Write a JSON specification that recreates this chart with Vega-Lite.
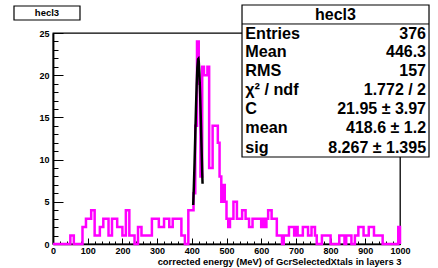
{
  "$schema": "https://vega.github.io/schema/vega-lite/v6.json",
  "width": 347,
  "height": 211,
  "autosize": {"type": "none"},
  "padding": {"left": 53, "top": 33, "right": 38, "bottom": 24},
  "background": "white",
  "config": {
    "view": {"stroke": "black", "strokeWidth": 1.3},
    "font": "Liberation Sans",
    "axis": {"labelOverlap": false, "labelFlush": false, "grid": false, "ticks": true},
    "text": {"font": "Liberation Sans", "fontWeight": "bold", "color": "black"}
  },
  "datasets": {
    "hist": [
      {"lo":0,"n":0},{"lo":5,"n":0},{"lo":10,"n":0},{"lo":15,"n":0},{"lo":20,"n":0},{"lo":25,"n":0},{"lo":30,"n":0},{"lo":35,"n":0},{"lo":40,"n":0},{"lo":45,"n":0},
      {"lo":50,"n":1},{"lo":55,"n":1},{"lo":60,"n":0},{"lo":65,"n":0},{"lo":70,"n":0},{"lo":75,"n":0},{"lo":80,"n":0},{"lo":85,"n":2},{"lo":90,"n":2},{"lo":95,"n":3},
      {"lo":100,"n":3},{"lo":105,"n":3},{"lo":110,"n":4},{"lo":115,"n":4},{"lo":120,"n":1},{"lo":125,"n":1},{"lo":130,"n":1},{"lo":135,"n":2},{"lo":140,"n":2},{"lo":145,"n":3},
      {"lo":150,"n":3},{"lo":155,"n":3},{"lo":160,"n":1},{"lo":165,"n":1},{"lo":170,"n":3},{"lo":175,"n":3},{"lo":180,"n":3},{"lo":185,"n":2},{"lo":190,"n":2},{"lo":195,"n":2},
      {"lo":200,"n":1},{"lo":205,"n":1},{"lo":210,"n":4},{"lo":215,"n":4},{"lo":220,"n":1},{"lo":225,"n":1},{"lo":230,"n":1},{"lo":235,"n":0},{"lo":240,"n":0},{"lo":245,"n":2},
      {"lo":250,"n":2},{"lo":255,"n":1},{"lo":260,"n":1},{"lo":265,"n":1},{"lo":270,"n":1},{"lo":275,"n":1},{"lo":280,"n":1},{"lo":285,"n":3},{"lo":290,"n":3},{"lo":295,"n":3},
      {"lo":300,"n":3},{"lo":305,"n":2},{"lo":310,"n":2},{"lo":315,"n":2},{"lo":320,"n":3},{"lo":325,"n":3},{"lo":330,"n":3},{"lo":335,"n":2},{"lo":340,"n":2},{"lo":345,"n":3},
      {"lo":350,"n":3},{"lo":355,"n":3},{"lo":360,"n":3},{"lo":365,"n":3},{"lo":370,"n":1},{"lo":375,"n":1},{"lo":380,"n":0},{"lo":385,"n":0},{"lo":390,"n":4},{"lo":395,"n":4},
      {"lo":400,"n":4},{"lo":405,"n":6},{"lo":410,"n":14},{"lo":415,"n":24},{"lo":420,"n":19},{"lo":425,"n":8},{"lo":430,"n":21},{"lo":435,"n":20},{"lo":440,"n":20},{"lo":445,"n":21},
      {"lo":450,"n":9},{"lo":455,"n":9},{"lo":460,"n":14},{"lo":465,"n":14},{"lo":470,"n":14},{"lo":475,"n":12},{"lo":480,"n":8},{"lo":485,"n":5},{"lo":490,"n":7},{"lo":495,"n":5},
      {"lo":500,"n":3},{"lo":505,"n":2},{"lo":510,"n":3},{"lo":515,"n":3},{"lo":520,"n":5},{"lo":525,"n":5},{"lo":530,"n":3},{"lo":535,"n":3},{"lo":540,"n":3},{"lo":545,"n":4},
      {"lo":550,"n":4},{"lo":555,"n":3},{"lo":560,"n":3},{"lo":565,"n":2},{"lo":570,"n":2},{"lo":575,"n":3},{"lo":580,"n":3},{"lo":585,"n":3},{"lo":590,"n":3},{"lo":595,"n":3},
      {"lo":600,"n":2},{"lo":605,"n":3},{"lo":610,"n":2},{"lo":615,"n":3},{"lo":620,"n":4},{"lo":625,"n":4},{"lo":630,"n":3},{"lo":635,"n":3},{"lo":640,"n":3},{"lo":645,"n":1},
      {"lo":650,"n":1},{"lo":655,"n":1},{"lo":660,"n":0},{"lo":665,"n":1},{"lo":670,"n":1},{"lo":675,"n":1},{"lo":680,"n":2},{"lo":685,"n":2},{"lo":690,"n":2},{"lo":695,"n":1},
      {"lo":700,"n":2},{"lo":705,"n":1},{"lo":710,"n":1},{"lo":715,"n":1},{"lo":720,"n":2},{"lo":725,"n":2},{"lo":730,"n":2},{"lo":735,"n":1},{"lo":740,"n":1},{"lo":745,"n":2},
      {"lo":750,"n":2},{"lo":755,"n":1},{"lo":760,"n":0},{"lo":765,"n":0},{"lo":770,"n":0},{"lo":775,"n":1},{"lo":780,"n":1},{"lo":785,"n":1},{"lo":790,"n":1},{"lo":795,"n":1},
      {"lo":800,"n":0},{"lo":805,"n":0},{"lo":810,"n":0},{"lo":815,"n":0},{"lo":820,"n":0},{"lo":825,"n":1},{"lo":830,"n":1},{"lo":835,"n":1},{"lo":840,"n":0},{"lo":845,"n":1},
      {"lo":850,"n":1},{"lo":855,"n":1},{"lo":860,"n":0},{"lo":865,"n":0},{"lo":870,"n":1},{"lo":875,"n":1},{"lo":880,"n":2},{"lo":885,"n":2},{"lo":890,"n":2},{"lo":895,"n":1},
      {"lo":900,"n":1},{"lo":905,"n":1},{"lo":910,"n":2},{"lo":915,"n":2},{"lo":920,"n":2},{"lo":925,"n":1},{"lo":930,"n":1},{"lo":935,"n":1},{"lo":940,"n":1},{"lo":945,"n":1},
      {"lo":950,"n":0},{"lo":955,"n":0},{"lo":960,"n":0},{"lo":965,"n":0},{"lo":970,"n":0},{"lo":975,"n":0},{"lo":980,"n":0},{"lo":985,"n":0},{"lo":990,"n":0},{"lo":995,"n":2},
      {"lo":1000,"n":0}
    ],
    "fit": [
      {"lo":404,"n":4.62},{"lo":406,"n":6.87},{"lo":408,"n":9.65},{"lo":410,"n":12.78},{"lo":412,"n":15.96},{"lo":414,"n":18.8},{"lo":416,"n":20.89},{"lo":418,"n":21.89},{"lo":419,"n":21.94},{"lo":420,"n":21.64},{"lo":422,"n":20.17},{"lo":424,"n":17.74},{"lo":426,"n":14.71},{"lo":428,"n":11.5},{"lo":430,"n":8.48},{"lo":431,"n":7.13}
    ],
    "boxes": [
      {"lo":544.7,"hi":1083.6,"n":10.31,"top":28.32},
      {"lo":-112.4,"hi":77.8,"n":26.54,"top":28.2}
    ],
    "sep": [{"lo":544.7,"hi":1083.6,"n":26.07}],
    "statlabels": [
      {"lo":554,"n":24.94,"t":"Entries"},
      {"lo":554,"n":22.69,"t":"Mean"},
      {"lo":554,"n":20.44,"t":"RMS"},
      {"lo":554,"n":18.19,"t":"χ² / ndf"},
      {"lo":554,"n":15.94,"t":"C"},
      {"lo":554,"n":13.69,"t":"mean"},
      {"lo":554,"n":11.43,"t":"sig"}
    ],
    "statvalues": [
      {"lo":1075,"n":24.94,"t":"376"},
      {"lo":1075,"n":22.69,"t":"446.3"},
      {"lo":1075,"n":20.44,"t":"157"},
      {"lo":1075,"n":18.19,"t":"1.772 / 2"},
      {"lo":1075,"n":15.94,"t":"21.95 ± 3.97"},
      {"lo":1075,"n":13.69,"t":"418.6 ± 1.2"},
      {"lo":1075,"n":11.43,"t":"8.267 ± 1.395"}
    ],
    "headers": [
      {"lo":814,"n":27.19,"t":"hecl3","s":16},
      {"lo":-17.3,"n":27.37,"t":"hecl3","s":9.5}
    ]
  },
  "encoding": {
    "x": {
      "field": "lo", "type": "quantitative",
      "scale": {"domain": [0, 1000], "nice": false, "zero": false},
      "axis": {
        "title": "corrected energy (MeV) of GcrSelectedXtals in layers 3",
        "titleFont": "Liberation Sans", "titleFontWeight": "bold", "titleFontSize": 9.4, "titleColor": "black",
        "titleAnchor": "end", "titleAlign": "right", "titleBaseline": "alphabetic", "titleX": 348, "titleY": 20,
        "values": [0,20,40,60,80,100,120,140,160,180,200,220,240,260,280,300,320,340,360,380,400,420,440,460,480,500,520,540,560,580,600,620,640,660,680,700,720,740,760,780,800,820,840,860,880,900,920,940,960,980,1000],
        "format": "d",
        "labelExpr": "datum.value % 100 === 0 ? datum.label : ''",
        "labelFont": "Liberation Sans", "labelFontWeight": "bold", "labelFontSize": 9, "labelColor": "black",
        "labelOverlap": false, "labelFlush": false,
        "tickSize": {"condition": {"test": "datum.value % 100 === 0", "value": -6}, "value": -3},
        "labelPadding": 8,
        "tickColor": "black", "tickWidth": 1, "domainColor": "black", "domainWidth": 1.5
      }
    },
    "y": {
      "field": "n", "type": "quantitative",
      "scale": {"domain": [0, 25], "nice": false},
      "axis": {
        "title": null,
        "values": [0,1,2,3,4,5,6,7,8,9,10,11,12,13,14,15,16,17,18,19,20,21,22,23,24,25],
        "format": "d",
        "labelExpr": "datum.value % 5 === 0 ? datum.label : ''",
        "labelFont": "Liberation Sans", "labelFontWeight": "bold", "labelFontSize": 9, "labelColor": "black",
        "labelOverlap": false, "labelFlush": false,
        "tickSize": {"condition": {"test": "datum.value % 5 === 0", "value": -10}, "value": -5},
        "labelPadding": 14,
        "tickColor": "black", "tickWidth": 1, "domainColor": "black", "domainWidth": 1.8
      }
    }
  },
  "layer": [
    {
      "data": {"name": "hist"},
      "mark": {"type": "line", "interpolate": "step-after", "color": "#ff00ff", "strokeWidth": 2.5}
    },
    {
      "data": {"name": "fit"},
      "mark": {"type": "line", "color": "black", "strokeWidth": 2.5}
    },
    {
      "data": {"name": "boxes"},
      "mark": {"type": "rect", "fill": "white", "stroke": "black", "strokeWidth": 1.2},
      "encoding": {
        "x2": {"field": "hi"},
        "y2": {"field": "top"}
      }
    },
    {
      "data": {"name": "sep"},
      "mark": {"type": "rule", "color": "black", "strokeWidth": 1},
      "encoding": {
        "x2": {"field": "hi"}
      }
    },
    {
      "data": {"name": "statlabels"},
      "mark": {"type": "text", "align": "left", "baseline": "middle", "fontSize": 16.2, "fontWeight": "bold", "font": "Liberation Sans"},
      "encoding": {
        "text": {"field": "t"}
      }
    },
    {
      "data": {"name": "statvalues"},
      "mark": {"type": "text", "align": "right", "baseline": "middle", "fontSize": 16, "fontWeight": "bold", "font": "Liberation Sans"},
      "encoding": {
        "text": {"field": "t"}
      }
    },
    {
      "data": {"name": "headers"},
      "mark": {"type": "text", "align": "center", "baseline": "middle", "fontWeight": "bold", "font": "Liberation Sans"},
      "encoding": {
        "text": {"field": "t"},
        "size": {"field": "s", "type": "quantitative", "scale": null}
      }
    }
  ]
}
